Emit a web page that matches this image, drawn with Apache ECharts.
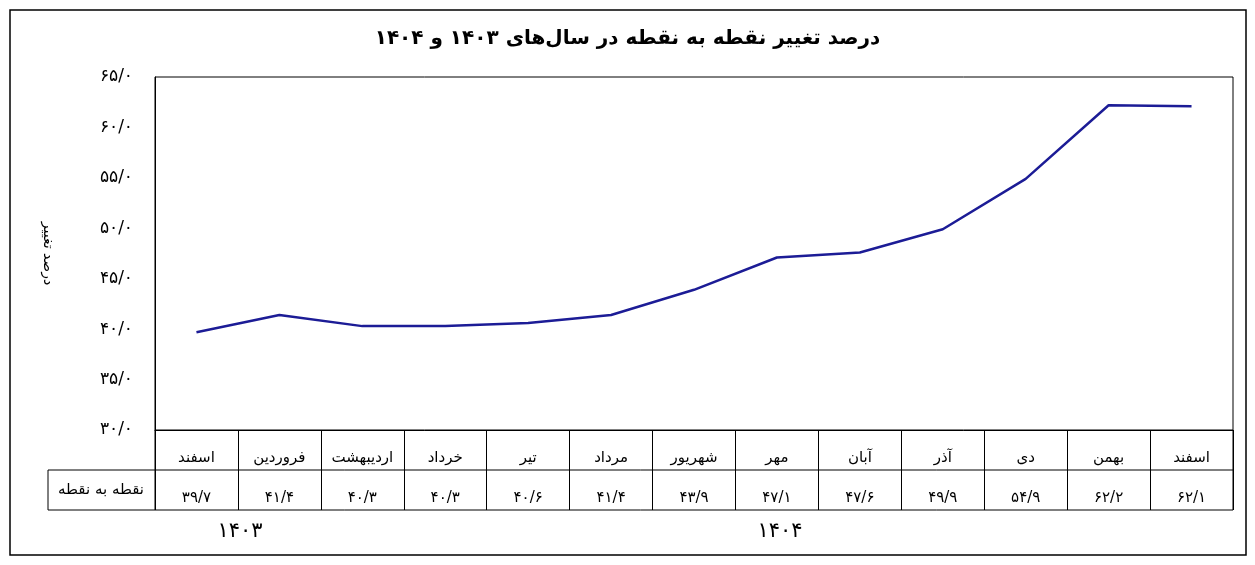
<!DOCTYPE html>
<html><head><meta charset="utf-8">
<script src="https://cdn.jsdelivr.net/npm/echarts@6/dist/echarts.min.js"></script>
<style>html,body{margin:0;padding:0;background:#fff}#c{width:1255px;height:565px}</style>
</head><body><div id="c"></div>
<script>
const months = ['اسفند','فروردین','اردیبهشت','خرداد','تیر','مرداد','شهریور','مهر','آبان','آذر','دی','بهمن','اسفند'];
const values = [39.7, 41.4, 40.3, 40.3, 40.6, 41.4, 43.9, 47.1, 47.6, 49.9, 54.9, 62.2, 62.1];
const yearLabels = ['۱۴۰۳', '۱۴۰۴'];
const titleText = 'درصد تغییر نقطه به نقطه در سال‌های ۱۴۰۳ و ۱۴۰۴';

const fa = s => String(s).replace(/\d/g, d => '۰۱۲۳۴۵۶۷۸۹'[d]);
const faNum = v => fa(v.toFixed(1)).replace('.', '/');

const FONT = 'DejaVu Sans';
const chart = echarts.init(document.getElementById('c'));
const line = (x1, y1, x2, y2) => ({ type: 'line', shape: { x1, y1, x2, y2 }, style: { stroke: '#000', lineWidth: 1 } });

chart.setOption({
    animation: false,
    title: { text: titleText, left: 'center', top: 24, textStyle: { fontFamily: FONT, fontSize: 20, fontWeight: 'bold', color: '#000' } },
    grid: { left: 155, right: 22, top: 77, bottom: 135, show: true, borderColor: '#000', borderWidth: 1 },
    xAxis: {
        type: 'category',
        data: months.map((m, i) => m + '\n' + faNum(values[i])),
        axisLine: { lineStyle: { color: '#000' } },
        axisTick: { show: true, length: 80, alignWithLabel: false, interval: 0, lineStyle: { color: '#000' } },
        axisLabel: { interval: 0, color: '#000', fontFamily: FONT, fontSize: 15, lineHeight: 40, margin: 8 }
    },
    yAxis: {
        type: 'value', min: 30, max: 65, interval: 5,
        name: 'درصد تغییر', nameLocation: 'middle', nameGap: 100, nameRotate: -90,
        nameTextStyle: { fontFamily: FONT, fontSize: 14, color: '#000', padding: [0, 0, 0, 0] },
        axisLine: { show: true, lineStyle: { color: '#000' } },
        axisTick: { show: false },
        splitLine: { show: false },
        axisLabel: { color: '#000', fontFamily: FONT, fontSize: 17, margin: 22, formatter: v => faNum(v) }
    },
    series: [{
        type: 'line', data: values, symbol: 'none',
        lineStyle: { color: '#1c1c96', width: 2.5 }
    }],
    graphic: [
        { type: 'rect', shape: { x: 10, y: 10, width: 1236, height: 545 }, style: { fill: null, stroke: '#000', lineWidth: 1.5 } },
        line(48, 470, 1233, 470),
        line(48, 510, 1233, 510),
        line(48, 470, 48, 510),
        line(155, 430, 155, 510),
        line(1233, 430, 1233, 510),
        { type: 'text', x: 101, y: 490, style: { text: 'نقطه به نقطه', font: '15px "DejaVu Sans"', fill: '#000', align: 'center', verticalAlign: 'middle' } },
        { type: 'text', x: 240, y: 532, style: { text: yearLabels[0], font: '21px "DejaVu Sans"', fill: '#000', align: 'center', verticalAlign: 'middle' } },
        { type: 'text', x: 780, y: 532, style: { text: yearLabels[1], font: '21px "DejaVu Sans"', fill: '#000', align: 'center', verticalAlign: 'middle' } }
    ]
});
</script></body></html>
